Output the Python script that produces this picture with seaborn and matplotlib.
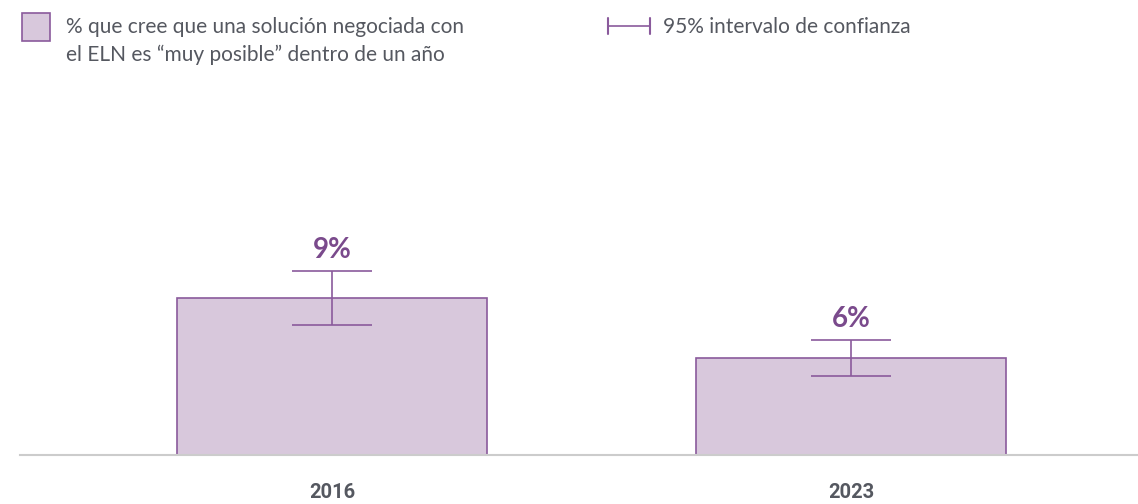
import matplotlib.pyplot as plt
import seaborn as sns
import pandas as pd
from matplotlib.patches import Rectangle
from matplotlib.lines import Line2D

years = ['2016', '2023']
values = [9.0, 5.55]
ci_err = [1.52, 1.03]
labels = ['9%', '6%']

fill = '#d8c8dc'
edge = '#8a5a9c'
label_col = '#7a4a8c'
text_col = '#555860'

sns.set_theme(style='white')
plt.rcParams['font.family'] = ['Lato', 'DejaVu Sans']

df = pd.DataFrame({'year': years, 'value': values})

fig = plt.figure(figsize=(11.38, 5.04), dpi=100)
ax = fig.add_axes([20 / 1138, 49 / 504, 1118 / 1138, 355 / 504])

sns.barplot(data=df, x='year', y='value', color=fill, width=0.597,
            edgecolor=edge, linewidth=1.2, saturation=1, errorbar=None, ax=ax)

ax.errorbar(range(len(years)), values, yerr=ci_err, fmt='none',
            ecolor=edge, elinewidth=1.2, capsize=28.5, capthick=1.2)

for i, (v, e, lab) in enumerate(zip(values, ci_err, labels)):
    ax.annotate(lab, (i, v + e), xytext=(0, 6), textcoords='offset points',
                ha='center', va='bottom', fontsize=20, fontweight='bold',
                color=label_col)

ax.set_xlim(-0.601, 1.553)
ax.set_ylim(0, 20.35)
ax.set_xlabel('')
ax.set_ylabel('')
ax.set_yticks([])
for s in ['top', 'left', 'right']:
    ax.spines[s].set_visible(False)
ax.spines['bottom'].set_color('#cccccc')
ax.spines['bottom'].set_linewidth(1.5)
ax.tick_params(axis='x', length=0, pad=20)
for t in ax.get_xticklabels():
    t.set_fontfamily(['Roboto', 'DejaVu Sans'])
    t.set_fontweight('bold')
    t.set_fontsize(14.5)
    t.set_color(text_col)

# legend
fig.patches.append(Rectangle((22 / 1138, 1 - 41 / 504), 28 / 1138, 28 / 504,
                             transform=fig.transFigure, facecolor=fill,
                             edgecolor=edge, linewidth=1.2))
fig.text(66 / 1138, 1 - 27 / 504, '% que cree que una solución negociada con',
         fontsize=15, color=text_col, va='center', ha='left')
fig.text(66 / 1138, 1 - 55 / 504, 'el ELN es “muy posible” dentro de un año',
         fontsize=15, color=text_col, va='center', ha='left')

ly = 1 - 26 / 504
fig.lines.append(Line2D([608 / 1138, 650 / 1138], [ly, ly],
                        transform=fig.transFigure, color=edge, lw=1.2))
for xx in [608, 650]:
    fig.lines.append(Line2D([xx / 1138, xx / 1138], [ly - 8 / 504, ly + 8 / 504],
                            transform=fig.transFigure, color=edge, lw=1.5))
fig.text(663 / 1138, 1 - 27 / 504, '95% intervalo de confianza',
         fontsize=15, color=text_col, va='center', ha='left')

fig.savefig('out.png', dpi=100)
